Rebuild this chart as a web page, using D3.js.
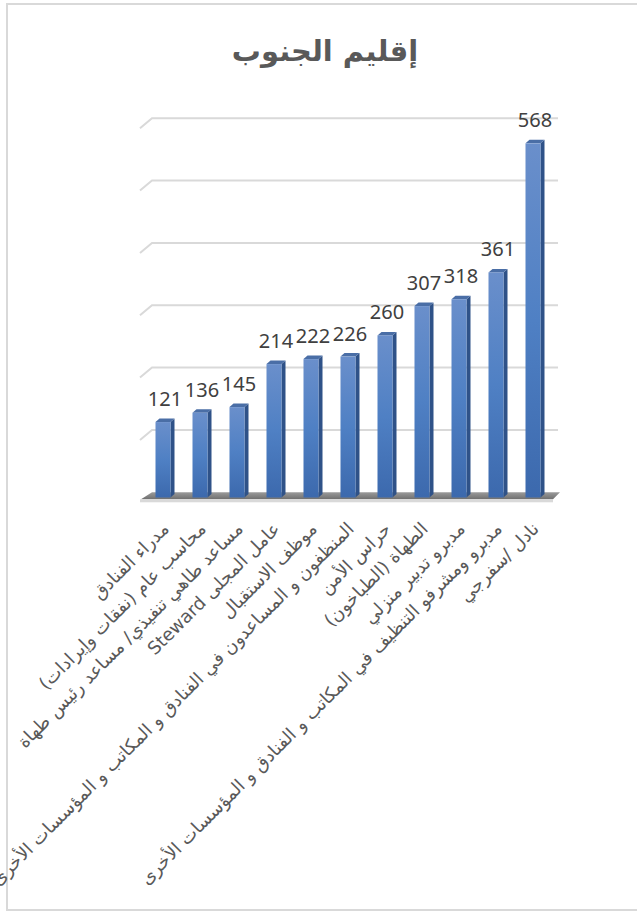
<!DOCTYPE html>
<html>
<head>
<meta charset="utf-8">
<script src="https://cdn.jsdelivr.net/npm/d3@7"></script>
<style>
body { margin: 0; background: #fff; }
</style>
</head>
<body>
<script>
var categories = [
  "مدراء الفنادق",
  "محاسب عام (نفقات وإيرادات)",
  "مساعد طاهي تنفيذي/ مساعد رئيس طهاة",
  "عامل المجلى Steward",
  "موظف الاستقبال",
  "المنظفون و المساعدون في الفنادق و المكاتب و المؤسسات الأخرى",
  "حراس الأمن",
  "الطهاة (الطباخون)",
  "مدبرو تدبير منزلي",
  "مدبرو ومشرفو التنظيف في المكاتب و الفنادق و المؤسسات الأخرى",
  "نادل /سفرجي"
];
var values = [121, 136, 145, 214, 222, 226, 260, 307, 318, 361, 568];
var gridValues = [100, 200, 300, 400, 500, 600];
var title = "إقليم الجنوب";

var width = 637, height = 912;

var svg = d3.select("body").append("svg")
            .attr("width", width)
            .attr("height", height);

var defs = svg.append("defs");
var gFront = defs.append("linearGradient").attr("id", "front")
                 .attr("x1", 0).attr("y1", 0).attr("x2", 0).attr("y2", 1);
gFront.append("stop").attr("offset", "0%").attr("stop-color", "#6a8fcb");
gFront.append("stop").attr("offset", "50%").attr("stop-color", "#4f80c4");
gFront.append("stop").attr("offset", "100%").attr("stop-color", "#3c69ad");
var gFloor = defs.append("linearGradient").attr("id", "floor")
                 .attr("x1", 0).attr("y1", 0).attr("x2", 0).attr("y2", 1);
gFloor.append("stop").attr("offset", "0%").attr("stop-color", "#9a9a9a");
gFloor.append("stop").attr("offset", "100%").attr("stop-color", "#6f6f6f");

// chart border (right edge falls outside the picture)
svg.append("rect")
   .attr("x", 7).attr("y", 4)
   .attr("width", 700).attr("height", 906)
   .attr("fill", "none")
   .attr("stroke", "#d9d9d9")
   .attr("stroke-width", 2);

svg.append("text")
   .attr("x", 325).attr("y", 61)
   .attr("text-anchor", "middle")
   .attr("font-family", "DejaVu Sans")
   .attr("font-weight", "bold")
   .attr("font-size", "29px")
   .attr("fill", "#595959")
   .text(title);

var x = d3.scalePoint().domain(categories).range([163, 533]);
var y = d3.scaleLinear().domain([0, 600]).range([497.5, 123.4]);
var back = 5.2;     // back wall sits a little higher than the bar fronts
var dx = 4, dy = 3.5;

// back wall gridlines with the short side-wall return on the left
svg.append("g").selectAll("path")
   .data(gridValues)
   .enter()
   .append("path")
   .attr("d", function (d) {
     var yy = y(d) - back;
     return "M140," + (yy + 10) + "L152," + yy + "L558," + yy;
   })
   .attr("fill", "none")
   .attr("stroke", "#d9d9d9")
   .attr("stroke-width", 2);

// floor
var fy = y(0) - back;
svg.append("path")
   .attr("d", "M152," + fy + "L560," + fy + "L553," + (fy + 7) + "L141," + (fy + 7) + "Z")
   .attr("fill", "url(#floor)");
svg.append("rect")
   .attr("x", 140).attr("y", fy + 7)
   .attr("width", 413).attr("height", 3)
   .attr("fill", "#d9d9d9");

var bars = svg.append("g").selectAll("g")
              .data(values)
              .enter()
              .append("g");

bars.append("path")
    .attr("d", function (d, i) {
      var x0 = x(categories[i]) - 7.5 + 15;
      return "M" + x0 + "," + y(d) + "L" + (x0 + dx) + "," + (y(d) - dy) +
             "L" + (x0 + dx) + "," + (y(0) - dy) + "L" + x0 + "," + y(0) + "Z";
    })
    .attr("fill", "#2f5288");

bars.append("path")
    .attr("d", function (d, i) {
      var x0 = x(categories[i]) - 7.5;
      return "M" + x0 + "," + y(d) + "L" + (x0 + dx) + "," + (y(d) - dy) +
             "L" + (x0 + 15 + dx) + "," + (y(d) - dy) + "L" + (x0 + 15) + "," + y(d) + "Z";
    })
    .attr("fill", "#4a6ea6");

bars.append("rect")
    .attr("x", function (d, i) { return x(categories[i]) - 7.5; })
    .attr("y", function (d) { return y(d); })
    .attr("width", 15)
    .attr("height", function (d) { return y(0) - y(d); })
    .attr("fill", "url(#front)");

svg.append("g").selectAll("text")
   .data(values)
   .enter()
   .append("text")
   .attr("x", function (d, i) { return x(categories[i]) + 2; })
   .attr("y", function (d) { return y(d) - 16; })
   .attr("text-anchor", "middle")
   .attr("font-family", "Noto Sans")
   .attr("font-size", "20px")
   .attr("fill", "#404040")
   .text(function (d) { return d; });

// category labels, rotated, right end at the bar
svg.append("g").selectAll("text")
   .data(categories)
   .enter()
   .append("text")
   .attr("transform", function (d) { return "translate(" + (x(d) + 7) + ",530) rotate(-45)"; })
   .attr("direction", "rtl")
   .attr("text-anchor", "start")
   .attr("font-family", "DejaVu Sans")
   .attr("font-size", "18px")
   .attr("fill", "#595959")
   .text(function (d) { return d; });
</script>
</body>
</html>
